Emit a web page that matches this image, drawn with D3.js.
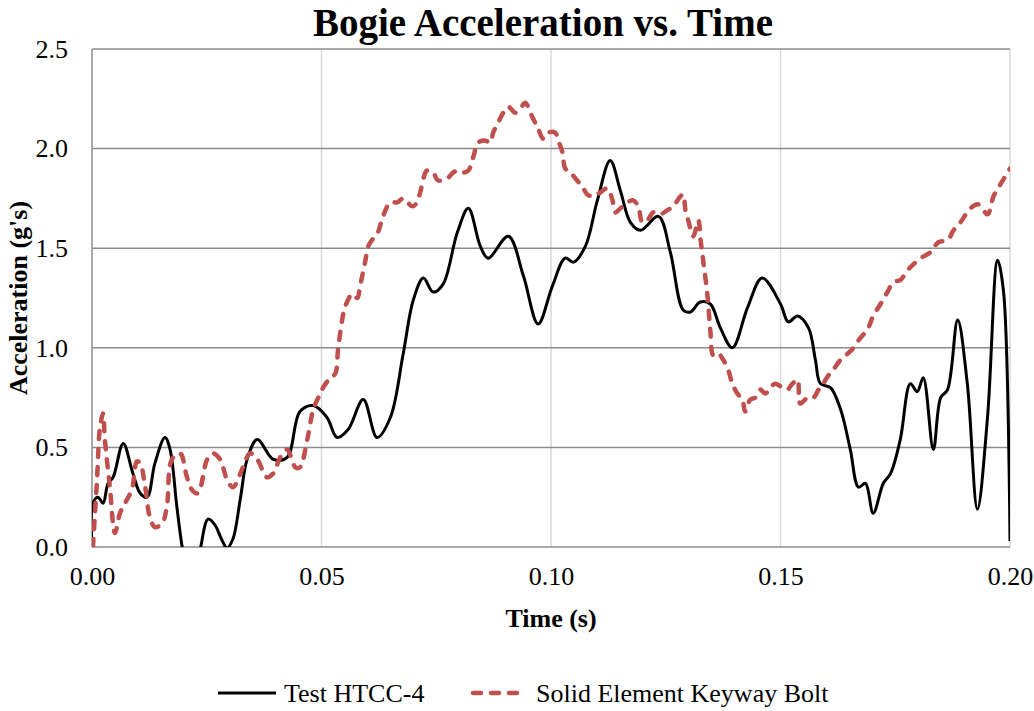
<!DOCTYPE html>
<html>
<head>
<meta charset="utf-8">
<script src="https://cdn.jsdelivr.net/npm/d3@7"></script>
<style>
  html, body { margin: 0; padding: 0; background: #ffffff; }
  svg { display: block; font-family: "Liberation Serif", "Times New Roman", serif; }
</style>
</head>
<body>
<svg id="chart" width="1034" height="711"></svg>
<script>
// Bogie acceleration (g's) against time (s)
const seriesNames = ["Test HTCC-4", "Solid Element Keyway Bolt"];

const testTime = [0.0000, 0.0002, 0.0013, 0.0024, 0.0035, 0.0046, 0.0068, 0.0089, 0.0105, 0.0120,
  0.0137, 0.0159, 0.0170, 0.0185, 0.0198, 0.0216, 0.0235, 0.0253, 0.0268, 0.0283,
  0.0294, 0.0307, 0.0323, 0.0338, 0.0360, 0.0395, 0.0425, 0.0453, 0.0482, 0.0512,
  0.0534, 0.0558, 0.0591, 0.0621, 0.0650, 0.0678, 0.0700, 0.0722, 0.0743, 0.0765,
  0.0796, 0.0820, 0.0846, 0.0863, 0.0907, 0.0940, 0.0972, 0.1003, 0.1031, 0.1049,
  0.1075, 0.1101, 0.1129, 0.1151, 0.1173, 0.1195, 0.1234, 0.1260, 0.1288, 0.1304,
  0.1325, 0.1347, 0.1369, 0.1395, 0.1428, 0.1460, 0.1500, 0.1517, 0.1537, 0.1561,
  0.1576, 0.1587, 0.1609, 0.1631, 0.1652, 0.1670, 0.1685, 0.1702, 0.1724, 0.1740,
  0.1761, 0.1783, 0.1798, 0.1811, 0.1833, 0.1849, 0.1864, 0.1886, 0.1907, 0.1929,
  0.1951, 0.1973, 0.1986, 0.2000];
const testAccel = [0.00, 0.22, 0.25, 0.22, 0.32, 0.35, 0.52, 0.37, 0.27, 0.25,
  0.42, 0.55, 0.49, 0.20, -0.02, -0.20, -0.02, 0.14, 0.11, 0.035,
  -0.005, 0.04, 0.24, 0.44, 0.54, 0.44, 0.45, 0.68, 0.71, 0.65,
  0.55, 0.59, 0.74, 0.55, 0.65, 0.97, 1.24, 1.35, 1.28, 1.32,
  1.58, 1.70, 1.51, 1.45, 1.56, 1.36, 1.12, 1.31, 1.45, 1.43,
  1.51, 1.74, 1.94, 1.79, 1.63, 1.59, 1.66, 1.48, 1.19, 1.18,
  1.23, 1.22, 1.10, 1.00, 1.20, 1.35, 1.22, 1.13, 1.16, 1.10,
  0.94, 0.82, 0.80, 0.69, 0.49, 0.30, 0.32, 0.17, 0.32, 0.37,
  0.54, 0.82, 0.78, 0.85, 0.49, 0.75, 0.79, 1.14, 0.82, 0.19,
  0.65, 1.44, 1.28, 0.03];

const boltTime = [0.0002, 0.0011, 0.0017, 0.0024, 0.0028, 0.0039, 0.0050, 0.0061, 0.0072, 0.0087,
  0.0098, 0.0105, 0.0116, 0.0126, 0.0137, 0.0153, 0.0163, 0.0174, 0.0192, 0.0207,
  0.0220, 0.0231, 0.0251, 0.0264, 0.0279, 0.0294, 0.0307, 0.0329, 0.0344, 0.0360,
  0.0381, 0.0395, 0.0410, 0.0425, 0.0443, 0.0453, 0.0469, 0.0482, 0.0493, 0.0501,
  0.0519, 0.0530, 0.0536, 0.0545, 0.0552, 0.0567, 0.0578, 0.0584, 0.0595, 0.0602,
  0.0613, 0.0623, 0.0634, 0.0650, 0.0665, 0.0678, 0.0698, 0.0708, 0.0715, 0.0730,
  0.0743, 0.0754, 0.0774, 0.0787, 0.0798, 0.0809, 0.0820, 0.0831, 0.0841, 0.0857,
  0.0868, 0.0874, 0.0885, 0.0896, 0.0907, 0.0922, 0.0933, 0.0944, 0.0959, 0.0972,
  0.0983, 0.0994, 0.1009, 0.1016, 0.1025, 0.1031, 0.1042, 0.1057, 0.1068, 0.1079,
  0.1092, 0.1107, 0.1123, 0.1134, 0.1140, 0.1151, 0.1166, 0.1179, 0.1190, 0.1199,
  0.1210, 0.1223, 0.1238, 0.1253, 0.1266, 0.1282, 0.1288, 0.1293, 0.1299, 0.1310,
  0.1321, 0.1326, 0.1332, 0.1341, 0.1347, 0.1354, 0.1365, 0.1375, 0.1386, 0.1395,
  0.1406, 0.1417, 0.1423, 0.1434, 0.1445, 0.1456, 0.1467, 0.1478, 0.1489, 0.1504,
  0.1515, 0.1526, 0.1537, 0.1543, 0.1559, 0.1572, 0.1583, 0.1593, 0.1604, 0.1615,
  0.1631, 0.1646, 0.1659, 0.1674, 0.1689, 0.1702, 0.1718, 0.1733, 0.1746, 0.1761,
  0.1777, 0.1790, 0.1805, 0.1827, 0.1844, 0.1864, 0.1877, 0.1892, 0.1914, 0.1931,
  0.1951, 0.1964, 0.1979, 0.1995, 0.2000];
const boltAccel = [0.00, 0.34, 0.59, 0.67, 0.54, 0.30, 0.07, 0.17, 0.22, 0.29,
  0.43, 0.42, 0.30, 0.15, 0.10, 0.12, 0.20, 0.44, 0.47, 0.35,
  0.28, 0.27, 0.44, 0.47, 0.44, 0.34, 0.30, 0.40, 0.47, 0.44,
  0.35, 0.37, 0.45, 0.49, 0.40, 0.40, 0.54, 0.69, 0.75, 0.79,
  0.85, 0.87, 0.99, 1.14, 1.21, 1.27, 1.25, 1.31, 1.43, 1.51,
  1.55, 1.58, 1.66, 1.73, 1.73, 1.75, 1.71, 1.73, 1.78, 1.89,
  1.88, 1.84, 1.85, 1.88, 1.89, 1.88, 1.89, 1.96, 2.03, 2.04,
  2.03, 2.08, 2.13, 2.18, 2.21, 2.18, 2.20, 2.23, 2.16, 2.10,
  2.05, 2.08, 2.08, 2.04, 1.98, 1.90, 1.88, 1.84, 1.81, 1.77,
  1.76, 1.78, 1.80, 1.74, 1.68, 1.70, 1.73, 1.74, 1.71, 1.63,
  1.64, 1.68, 1.67, 1.69, 1.71, 1.76, 1.77, 1.69, 1.64, 1.56,
  1.64, 1.54, 1.43, 1.26, 1.09, 0.96, 0.97, 0.94, 0.89, 0.82,
  0.77, 0.74, 0.68, 0.74, 0.75, 0.79, 0.77, 0.80, 0.82, 0.80,
  0.79, 0.82, 0.84, 0.72, 0.75, 0.75, 0.79, 0.82, 0.86, 0.89,
  0.94, 0.97, 1.00, 1.05, 1.09, 1.16, 1.22, 1.28, 1.33, 1.34,
  1.39, 1.42, 1.45, 1.48, 1.53, 1.54, 1.59, 1.63, 1.70, 1.72,
  1.67, 1.76, 1.82, 1.88, 1.90];

const xTicks = [0.00, 0.05, 0.10, 0.15, 0.20];
const yTicks = [0.0, 0.5, 1.0, 1.5, 2.0, 2.5];

const W = 1034, H = 711;
const plot = { left: 92, right: 1010, top: 49, bottom: 547 };
const FONT = '"Liberation Serif", "Times New Roman", serif';

const svg = d3.select("#chart");

const x = d3.scaleLinear().domain([0, 0.2]).range([plot.left, plot.right]);
const y = d3.scaleLinear().domain([0, 2.5]).range([plot.bottom, plot.top]);

// clip region for the data lines
svg.append("defs").append("clipPath").attr("id", "plotClip")
  .append("rect")
  .attr("x", plot.left).attr("y", plot.top)
  .attr("width", plot.right - plot.left).attr("height", plot.bottom - plot.top);

// vertical gridlines (light)
svg.append("g").selectAll("line").data(xTicks.slice(1)).join("line")
  .attr("x1", d => x(d)).attr("x2", d => x(d))
  .attr("y1", plot.top).attr("y2", plot.bottom)
  .attr("stroke", "#d9d9d9").attr("stroke-width", 1.5);

// horizontal gridlines (darker)
svg.append("g").selectAll("line").data(yTicks).join("line")
  .attr("x1", plot.left).attr("x2", plot.right)
  .attr("y1", d => y(d)).attr("y2", d => y(d))
  .attr("stroke", "#8c8c8c").attr("stroke-width", 1.5);

// y axis line
svg.append("line")
  .attr("x1", plot.left).attr("x2", plot.left)
  .attr("y1", plot.top).attr("y2", plot.bottom)
  .attr("stroke", "#8c8c8c").attr("stroke-width", 1.5);

// tick labels via d3 axes, with the domain path and tick marks hidden
const yAxis = svg.append("g")
  .attr("transform", `translate(${plot.left},0)`)
  .call(d3.axisLeft(y).tickValues(yTicks).tickFormat(d3.format(".1f")).tickSize(0).tickPadding(24));
yAxis.select(".domain").remove();
yAxis.selectAll("text").attr("font-family", FONT).attr("font-size", 26).attr("fill", "#000");

const xAxis = svg.append("g")
  .attr("transform", `translate(0,${plot.bottom})`)
  .call(d3.axisBottom(x).tickValues(xTicks).tickFormat(d3.format(".2f")).tickSize(0).tickPadding(20));
xAxis.select(".domain").remove();
xAxis.selectAll("text").attr("font-family", FONT).attr("font-size", 26).attr("fill", "#000");

// data lines
const testData = testTime.map((t, i) => ({ t, v: testAccel[i] }));
const boltData = boltTime.map((t, i) => ({ t, v: boltAccel[i] }));

const line = d3.line()
  .x(d => x(d.t)).y(d => y(d.v))
  .curve(d3.curveCatmullRom.alpha(0.5));

const lines = svg.append("g").attr("clip-path", "url(#plotClip)");

lines.append("path").datum(testData)
  .attr("d", line)
  .attr("fill", "none").attr("stroke", "#000000")
  .attr("stroke-width", 3).attr("stroke-linejoin", "round");

lines.append("path").datum(boltData)
  .attr("d", line)
  .attr("fill", "none").attr("stroke", "#c0504d")
  .attr("stroke-width", 4.5).attr("stroke-linejoin", "round")
  .attr("stroke-linecap", "round").attr("stroke-dasharray", "8,10");

// title
svg.append("text")
  .attr("x", 543).attr("y", 36)
  .attr("text-anchor", "middle")
  .attr("font-family", FONT).attr("font-weight", "bold").attr("font-size", 39)
  .text("Bogie Acceleration vs. Time");

// axis titles
svg.append("text")
  .attr("x", (plot.left + plot.right) / 2).attr("y", 627)
  .attr("text-anchor", "middle")
  .attr("font-family", FONT).attr("font-weight", "bold").attr("font-size", 26)
  .text("Time (s)");

svg.append("text")
  .attr("transform", `translate(27,${(plot.top + plot.bottom) / 2}) rotate(-90)`)
  .attr("text-anchor", "middle")
  .attr("font-family", FONT).attr("font-weight", "bold").attr("font-size", 26)
  .text("Acceleration (g's)");

// legend
const legend = svg.append("g");
const legendItems = [
  { name: seriesNames[0], x0: 218, color: "#000000", width: 3, dash: null, cap: "butt" },
  { name: seriesNames[1], x0: 470, color: "#c0504d", width: 4.5, dash: "8,10", cap: "round" }
];
legendItems.forEach(it => {
  legend.append("line")
    .attr("x1", it.x0 + (it.cap === "round" ? 3 : 0)).attr("x2", it.x0 + 58 - (it.cap === "round" ? 3 : 0))
    .attr("y1", 693).attr("y2", 693)
    .attr("stroke", it.color).attr("stroke-width", it.width)
    .attr("stroke-linecap", it.cap)
    .attr("stroke-dasharray", it.dash);
  legend.append("text")
    .attr("x", it.x0 + 66).attr("y", 702)
    .attr("font-family", FONT).attr("font-size", 26)
    .text(it.name);
});
</script>
</body>
</html>
